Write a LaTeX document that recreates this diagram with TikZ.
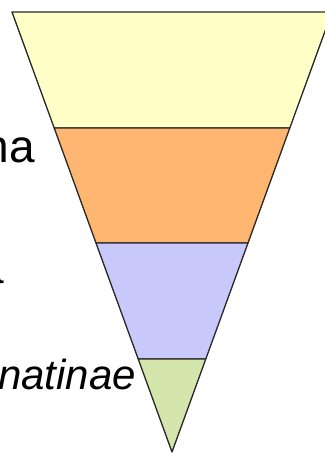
\documentclass[tikz,border=0pt]{standalone}
\usepackage{fontspec}
\setmainfont{Liberation Sans}
\definecolor{bandA}{RGB}{255,255,200}
\definecolor{bandB}{RGB}{255,182,112}
\definecolor{bandC}{RGB}{200,200,250}
\definecolor{bandD}{RGB}{212,230,172}
\definecolor{edge}{RGB}{40,40,40}
\begin{document}
\begin{tikzpicture}[x=1pt,y=-1pt,
  band/.style={draw=edge,line width=1.3pt,line join=round},
  lbl/.style={anchor=base east,inner sep=0pt,text=black,font=\fontsize{46}{50}\selectfont},
  lbli/.style={lbl,font=\fontsize{42}{46}\selectfont\itshape}]
\useasboundingbox (0,0) rectangle (324,457);
\fill[white] (0,0) rectangle (324,457);
\coordinate (tl) at (12,12);
\coordinate (tr) at (332,12);
\coordinate (l1) at (54.2,128);
\coordinate (r1) at (289.8,128);
\coordinate (l2) at (96,243);
\coordinate (r2) at (248,243);
\coordinate (l3) at (138.2,359);
\coordinate (r3) at (205.8,359);
\coordinate (ap) at (172,452);
\path[band,fill=bandA] (tl) -- (tr) -- (r1) -- (l1) -- cycle;
\path[band,fill=bandB] (l1) -- (r1) -- (r2) -- (l2) -- cycle;
\path[band,fill=bandC] (l2) -- (r2) -- (r3) -- (l3) -- cycle;
\path[band,fill=bandD] (l3) -- (r3) -- (ap) -- cycle;
\node[lbl] (t1) at (35,163) {na};
\node[lbl] (t2) at (4,283) {a};
\node[lbl] (t3) at (2,334) {e};
\node[lbli] (t4) at (136,389) {natinae};
\end{tikzpicture}
\end{document}
